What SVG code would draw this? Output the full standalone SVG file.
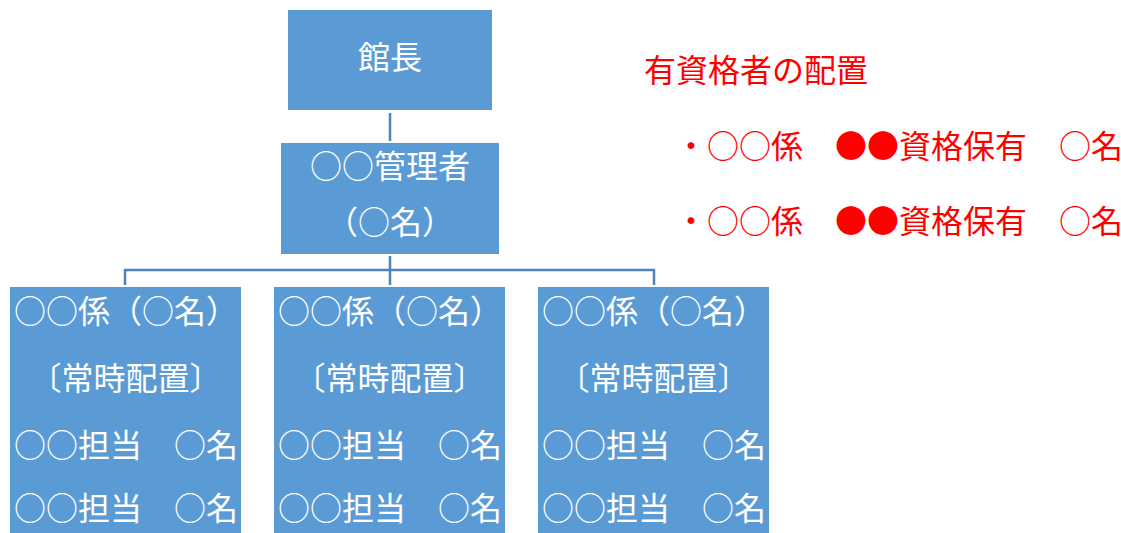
<svg xmlns="http://www.w3.org/2000/svg" width="1121" height="533" viewBox="0 0 1121 533">
<style>
.box{fill:#5b9bd5;stroke:none}
.w{fill:#ffffff;font-family:"Noto Sans CJK JP","Noto Sans CJK SC",sans-serif;font-size:32px}
.r{fill:#ff0000;font-family:"Noto Sans CJK JP","Noto Sans CJK SC",sans-serif;font-size:32px}
.c{text-anchor:middle}
.ln{stroke:#4f81bd;stroke-width:2.5;fill:none}
</style>
<rect width="1121" height="533" fill="#ffffff"/>
<g id="connectors">
<line class="ln" x1="390" y1="113" x2="390" y2="141"/>
<line class="ln" x1="390" y1="256" x2="390" y2="285"/>
<polyline class="ln" points="125,285 125,270 654,270 654,285"/>
</g>
<g id="kancho">
<rect class="box" x="288" y="10" width="204" height="100"/>
<text class="w c" x="390" y="69">館長</text>
</g>
<g id="kanrisha">
<rect class="box" x="281" y="143" width="218" height="111"/>
<text class="w c" x="390" y="178">○○管理者</text>
<text class="w c" x="390" y="234">（○名）</text>
</g>
<g id="kakari1">
<rect class="box" x="10" y="287" width="231" height="246"/>
<text class="w" x="14" y="323">○○係（○名）</text>
<text class="w c" x="125.5" y="390">〔常時配置〕</text>
<text class="w" x="14" y="457">○○担当　○名</text>
<text class="w" x="14" y="520">○○担当　○名</text>
</g>
<g id="kakari2">
<rect class="box" x="274" y="287" width="231" height="246"/>
<text class="w" x="278" y="323">○○係（○名）</text>
<text class="w c" x="389.5" y="390">〔常時配置〕</text>
<text class="w" x="278" y="457">○○担当　○名</text>
<text class="w" x="278" y="520">○○担当　○名</text>
</g>
<g id="kakari3">
<rect class="box" x="538" y="287" width="231" height="246"/>
<text class="w" x="542" y="323">○○係（○名）</text>
<text class="w c" x="653.5" y="390">〔常時配置〕</text>
<text class="w" x="542" y="457">○○担当　○名</text>
<text class="w" x="542" y="520">○○担当　○名</text>
</g>
<g id="legend">
<text class="r" x="644" y="82">有資格者の配置</text>
<text class="r" x="675" y="158">・○○係　●●資格保有　○名</text>
<text class="r" x="675" y="233">・○○係　●●資格保有　○名</text>
</g>
</svg>
